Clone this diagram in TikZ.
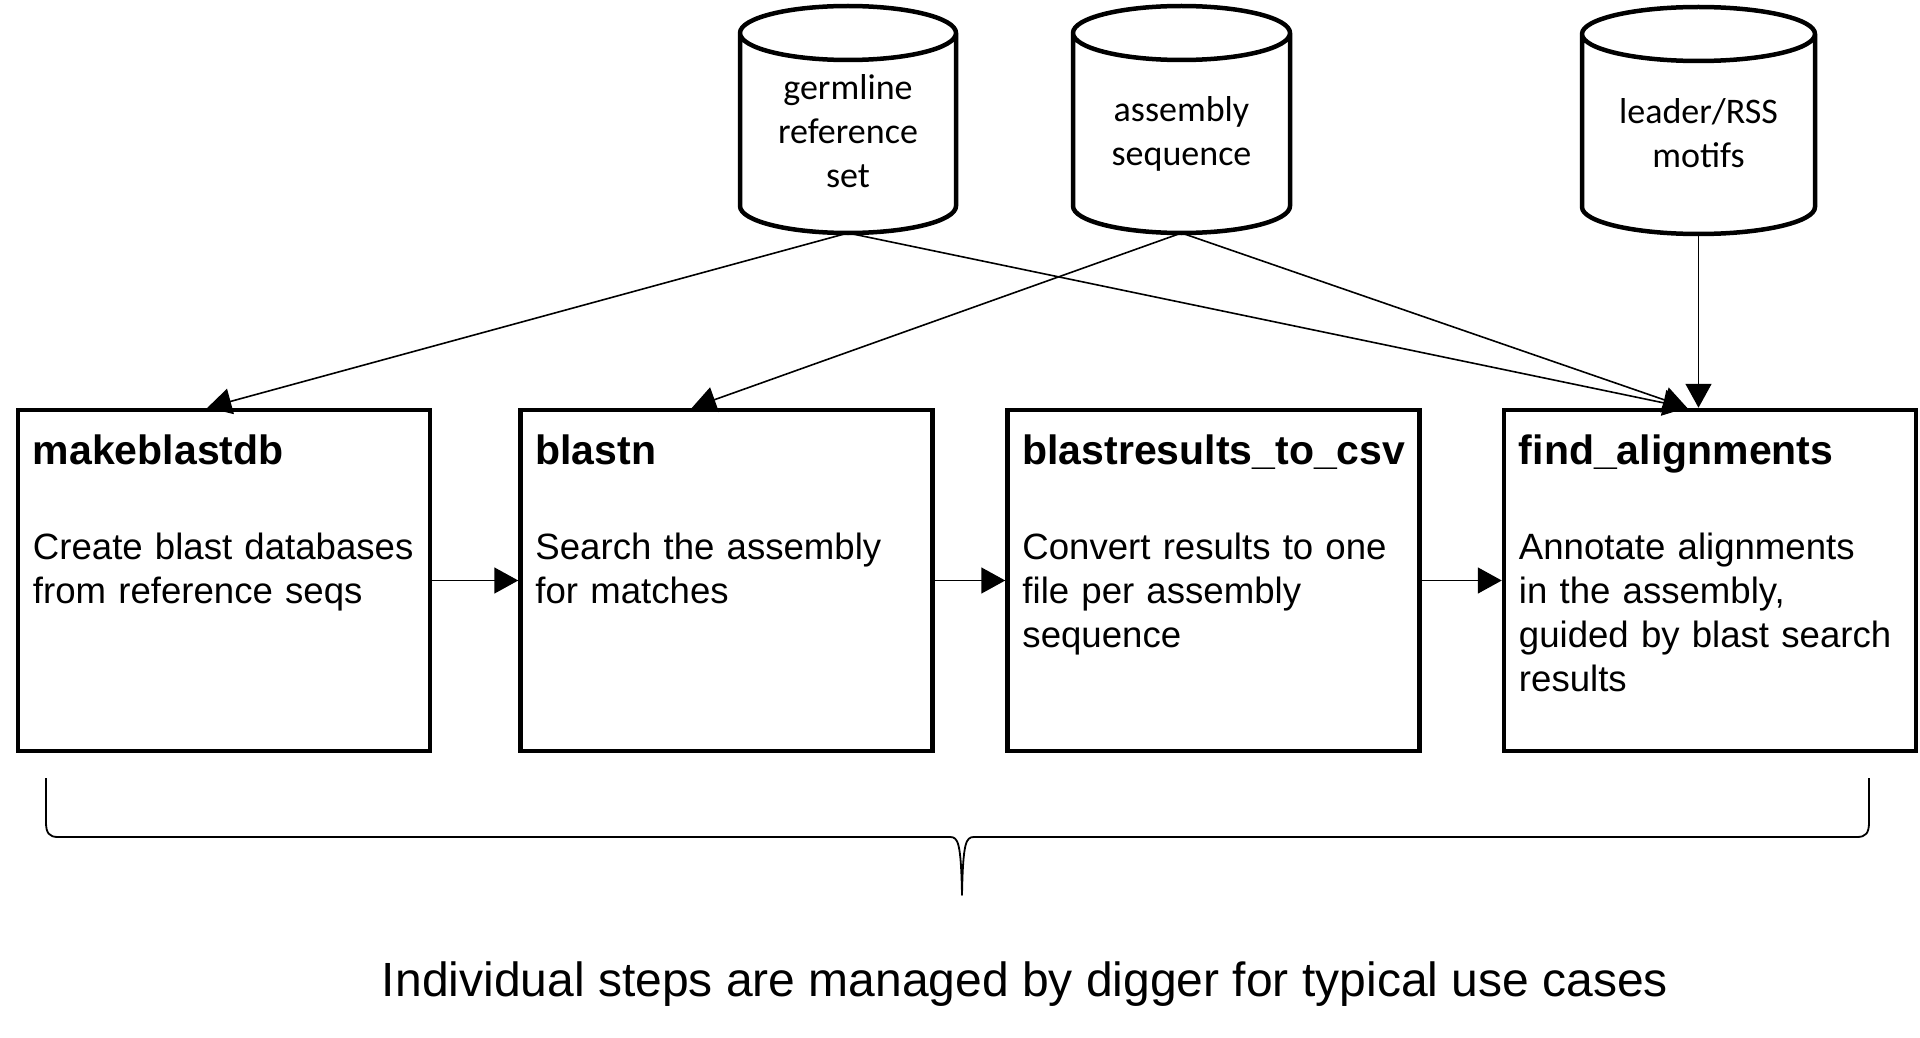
\documentclass[tikz,border=0pt]{standalone}
\usepackage{fontspec}
\setmainfont{Liberation Sans}
\newfontfamily\cali{Carlito}
\usetikzlibrary{arrows.meta,calc}
\newcommand{\cylpath}[2]{%
  \draw[cylline] ([yshift=-27pt]#1.north west) -- ([yshift=27pt]#1.south west)
    arc[start angle=180,end angle=360,x radius=#2,y radius=27pt]
    -- ([yshift=-27pt]#1.north east)
    arc[start angle=0,end angle=180,x radius=#2,y radius=27pt]
    arc[start angle=180,end angle=360,x radius=#2,y radius=27pt];}
\tikzset{
  stepbox/.style={draw, line width=4.5pt, minimum width=412pt, minimum height=341pt, inner sep=0pt},
  cylframe/.style={draw=none, inner sep=0pt, outer sep=0pt, minimum height=227pt},
  cylline/.style={line width=4.5pt, line join=round},
  cyltext/.style={align=center, font=\cali\fontsize{36pt}{44pt}\selectfont, inner sep=0pt},
  titletext/.style={anchor=base west, inner sep=0pt, font=\fontsize{41pt}{48pt}\selectfont\bfseries},
  bodytext/.style={anchor=base west, inner sep=0pt, align=left, text width=392pt, font=\fontsize{36.6pt}{44pt}\selectfont},
  conn/.style={line width=1.6pt, -{Triangle[length=24pt,width=26pt]}},
}
\begin{document}
\begin{tikzpicture}[x=1pt,y=-1pt]
\fill[white] (0,0) rectangle (1920,1038);
\useasboundingbox (0,0) rectangle (1920,1038);

% cylinders
\node[cylframe, minimum width=216pt] (c1) at (848,119.5) {};
\node[cylframe, minimum width=217pt] (c2) at (1181.5,119.5) {};
\node[cylframe, minimum width=233pt] (c3) at (1698.5,120.5) {};
\cylpath{c1}{108pt}
\cylpath{c2}{108.5pt}
\cylpath{c3}{116.5pt}
\node[cyltext] (c1t) at (848,131) {germline\\reference\\set};
\node[cyltext] (c2t) at (1181.5,134) {assembly\\sequence};
\node[cyltext] (c3t) at (1698.5,133) {leader/RSS\\motifs};

% step boxes
\node[stepbox] (b1) at (224,580.5) {};
\node[stepbox] (b2) at (726.5,580.5) {};
\node[stepbox] (b3) at (1213.5,580.5) {};
\node[stepbox] (b4) at (1710,580.5) {};

\node[titletext] (b1h) at ($(b1.north west)+(17,57)$) {makeblastdb};
\node[titletext] (b2h) at ($(b2.north west)+(17,57)$) {blastn};
\node[titletext] (b3h) at ($(b3.north west)+(17,57)$) {blastresults\_to\_csv};
\node[titletext] (b4h) at ($(b4.north west)+(17,57)$) {find\_alignments};

\node[bodytext] (b1d) at ($(b1.north west)+(17,152)$) {Create blast databases\\from reference seqs};
\node[bodytext] (b2d) at ($(b2.north west)+(17,152)$) {Search the assembly\\for matches};
\node[bodytext] (b3d) at ($(b3.north west)+(17,152)$) {Convert results to one\\file per assembly\\sequence};
\node[bodytext] (b4d) at ($(b4.north west)+(17,152)$) {Annotate alignments\\in the assembly,\\guided by blast search\\results};

% entry points on box tops
\coordinate (b1in) at ($(b1.north west)!0.46!(b1.north east)$);
\coordinate (b2in) at ($(b2.north west)!0.417!(b2.north east)$);
\coordinate (b4in) at ($(b4.north west)!0.445!(b4.north east)$);

% connectors
\draw[conn] (c1.south) -- (b1in);
\draw[conn] (c1.south) -- (b4in);
\draw[conn] (c2.south) -- (b2in);
\draw[conn] (c2.south) -- (b4in);
\draw[conn] (c3.south) -- (c3.south |- b4.north);
\draw[conn] (b1.east) -- (b2.west);
\draw[conn] (b2.east) -- (b3.west);
\draw[conn] (b3.east) -- (b4.west);

% brace
\draw[line width=1.8pt, line join=round]
  (46,778) -- (46,822) .. controls (46,833) and (49,837) .. (58,837)
  -- (950,837) .. controls (958,837) and (961,842) .. (962,895)
  .. controls (963,842) and (966,837) .. (974,837)
  -- (1857,837) .. controls (1866,837) and (1869,833) .. (1869,822)
  -- (1869,778);

\node[anchor=base, inner sep=0pt, font=\fontsize{48pt}{56pt}\selectfont] (note) at (1025,996)
  {Individual steps are managed by digger for typical use cases};
\end{tikzpicture}
\end{document}
